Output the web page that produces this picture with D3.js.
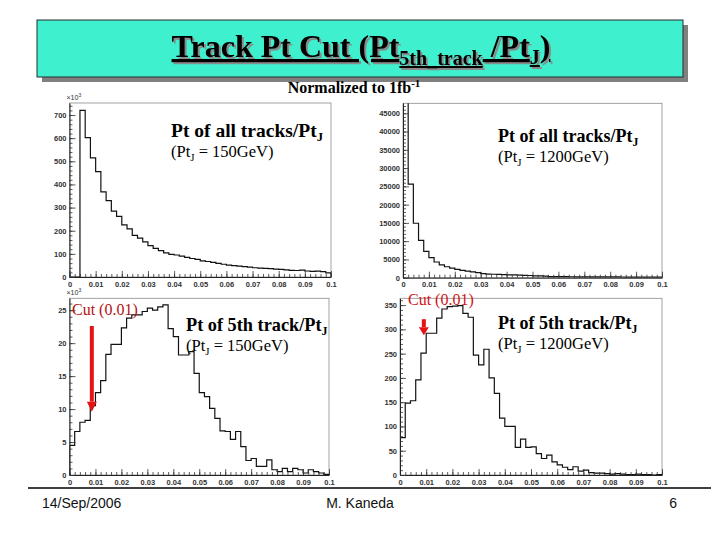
<!DOCTYPE html>
<html>
<head>
<meta charset="utf-8">
<script src="https://cdn.jsdelivr.net/npm/d3@7/dist/d3.min.js"></script>
<style>
  body { margin: 0; background: #fff; }
  svg { display: block; }
  .tick text { font-family: "Liberation Sans", Arial, sans-serif; font-weight: bold; font-size: 7.5px; fill: #333; }
</style>
</head>
<body>
<div id="slide"></div>
<script>
// 50 bins of width 0.002 between 0 and 0.1
var binWidth = 0.002;

// Pt of all tracks / PtJ, PtJ = 150 GeV  (x10^3 entries)
var allTracks150 = [0, 0, 720, 602, 515, 455, 368, 330, 285, 262, 225, 208, 180, 168, 152, 136, 124, 114, 104, 98,
  95, 90, 85, 80, 76, 70, 67, 63, 59, 55, 51, 49, 47, 45, 43, 40, 38, 37, 36, 34,
  33, 31, 29, 28, 30, 26, 24, 25, 23, 18];

// Pt of all tracks / PtJ, PtJ = 1200 GeV (first bin is off scale)
var allTracks1200 = [60000, 25600, 14900, 10200, 7200, 5500, 4300, 3500, 3000, 2600, 2300, 2000, 1800, 1600, 1400, 1100, 1000, 950, 900, 850,
  800, 750, 700, 650, 600, 500, 480, 450, 300, 300, 280, 280, 260, 250, 250, 240, 230, 220, 220, 210,
  200, 200, 190, 180, 180, 170, 160, 160, 150, 150];

// Pt of 5th track / PtJ, PtJ = 150 GeV (x10^3 entries)
var fifthTrack150 = [4.5, 6.6, 8.0, 8.3, 10.5, 12.5, 14.3, 18.3, 19.8, 19.8, 22.3, 23.8, 24.3, 24.3, 24.8, 25.3, 25.0, 25.5, 25.8, 22.2,
  21.0, 18.2, 18.2, 18.7, 15.4, 12.5, 11.9, 10.1, 8.6, 6.7, 6.6, 5.4, 6.6, 4.3, 2.2, 2.5, 1.3, 1.3, 2.3, 0.8,
  0.5, 1.0, 0.5, 1.0, 0.8, 0.3, 0.8, 0.5, 0.3, 0.1];

// Pt of 5th track / PtJ, PtJ = 1200 GeV
var fifthTrack1200 = [77, 148, 153, 196, 251, 292, 292, 323, 342, 347, 348, 349, 333, 325, 247, 227, 259, 200, 168, 117,
  100, 100, 57, 74, 57, 58, 44, 34, 41, 27, 21, 16, 11, 17, 8, 10, 5, 4, 4, 3,
  2, 3, 2, 1, 1, 2, 1, 1, 0, 1];

var xTicks = [0, 0.01, 0.02, 0.03, 0.04, 0.05, 0.06, 0.07, 0.08, 0.09, 0.1];
var xTickLabels = ["0", "0.01", "0.02", "0.03", "0.04", "0.05", "0.06", "0.07", "0.08", "0.09", "0.1"];
var yTicksAll150 = [0, 100, 200, 300, 400, 500, 600, 700];
var yTicksAll1200 = [0, 5000, 10000, 15000, 20000, 25000, 30000, 35000, 40000, 45000];
var yTicksFifth150 = [0, 5, 10, 15, 20, 25];
var yTicksFifth1200 = [0, 50, 100, 150, 200, 250, 300, 350];

var svg = d3.select('#slide').append('svg')
  .attr('width', 720)
  .attr('height', 540);

// ---- title box ----
svg.append('rect').attr('x', 42).attr('y', 25).attr('width', 646).attr('height', 57).style('fill', '#808080');
svg.append('rect').attr('x', 37).attr('y', 20).attr('width', 646).attr('height', 57)
  .style('fill', '#3ff0cf').style('stroke', '#2a2a2a').style('stroke-width', 1);

var title = svg.append('text')
  .attr('x', 361).attr('y', 57)
  .attr('text-anchor', 'middle')
  .style('font-family', '"Liberation Serif", "Times New Roman", serif')
  .style('font-weight', 'bold')
  .style('font-size', '32px')
  .style('text-decoration', 'underline')
  .style('filter', 'drop-shadow(2px 2px 0 #8a8a8a)')
  .style('fill', '#000');
title.append('tspan').text('Track Pt Cut (Pt');
title.append('tspan').attr('dy', 8).style('font-size', '20px').text('5th_track');
title.append('tspan').attr('dy', -8).text(' /Pt');
title.append('tspan').attr('dy', 7).style('font-size', '20px').text('J');
title.append('tspan').attr('dy', -7).text(')');

var norm = svg.append('text')
  .attr('x', 354).attr('y', 93)
  .attr('text-anchor', 'middle')
  .style('font-family', '"Liberation Serif", "Times New Roman", serif')
  .style('font-weight', 'bold')
  .style('font-size', '16px');
norm.append('tspan').text('Normalized to 1fb');
norm.append('tspan').attr('dy', -6).style('font-size', '11px').text('-1');

// ---- histogram panels ----
function drawPanel(cfg) {
  var x = d3.scaleLinear().domain([0, 0.1]).range([cfg.left, cfg.right]);
  var y = d3.scaleLinear().domain([0, cfg.ymax]).range([cfg.bottom, cfg.top]);
  var g = svg.append('g');

  g.append('clipPath').attr('id', cfg.id + '-clip')
    .append('rect')
    .attr('x', cfg.left).attr('y', cfg.top)
    .attr('width', cfg.right - cfg.left).attr('height', cfg.bottom - cfg.top);

  g.append('rect')
    .attr('x', cfg.left).attr('y', cfg.top)
    .attr('width', cfg.right - cfg.left).attr('height', cfg.bottom - cfg.top)
    .style('fill', '#fff').style('stroke', '#8c8c8c').style('stroke-width', 0.8);

  var pts = [{x: 0, y: 0}];
  cfg.values.forEach(function(v, i) { pts.push({x: i * binWidth, y: v}); });
  pts.push({x: cfg.values.length * binWidth, y: cfg.values[cfg.values.length - 1]});
  pts.push({x: cfg.values.length * binWidth, y: 0});

  var line = d3.line()
    .x(function(d) { return x(d.x); })
    .y(function(d) { return y(d.y); })
    .curve(d3.curveStepAfter);

  g.append('path')
    .datum(pts)
    .attr('clip-path', 'url(#' + cfg.id + '-clip)')
    .attr('d', line)
    .style('fill', 'none').style('stroke', '#111').style('stroke-width', 1.2);

  // minor ticks
  var xMinor = d3.range(0, 0.1001, 0.002);
  g.append('g').attr('transform', 'translate(0,' + cfg.bottom + ')')
    .call(d3.axisBottom(x).tickValues(xMinor).tickSize(-3).tickSizeOuter(0).tickFormat(''))
    .call(function(s) { s.select('.domain').remove(); });
  var yMinor = d3.range(0, cfg.ymax, cfg.minorStep);
  g.append('g').attr('transform', 'translate(' + cfg.left + ',0)')
    .call(d3.axisLeft(y).tickValues(yMinor).tickSize(-3).tickSizeOuter(0).tickFormat(''))
    .call(function(s) { s.select('.domain').remove(); });

  // major ticks + labels
  var xa = g.append('g').attr('transform', 'translate(0,' + cfg.bottom + ')')
    .call(d3.axisBottom(x).tickValues(xTicks).tickSize(-6).tickSizeOuter(0).tickPadding(3)
      .tickFormat(function(d, i) { return xTickLabels[i]; }));
  xa.selectAll('.tick text').attr('dy', '0.9em');
  g.append('g').attr('transform', 'translate(' + cfg.left + ',0)')
    .call(d3.axisLeft(y).tickValues(cfg.yTicks).tickSize(-6).tickSizeOuter(0).tickPadding(3)
      .tickFormat(d3.format('d')));

  g.selectAll('.domain').style('stroke', '#222').style('stroke-width', 1);
  g.selectAll('.tick line').style('stroke', '#333').style('stroke-width', 0.8);

  if (cfg.exponent) {
    var ex = g.append('text')
      .attr('x', cfg.left - 3).attr('y', cfg.top - 3)
      .style('font-family', '"Liberation Sans", Arial, sans-serif')
      .style('font-size', '7px').style('fill', '#333');
    ex.append('tspan').text('\u00d710');
    ex.append('tspan').attr('dy', -3).style('font-size', '5px').text('3');
  }

  var t1 = g.append('text')
    .attr('x', cfg.labelX).attr('y', cfg.labelY)
    .style('font-family', '"Liberation Serif", "Times New Roman", serif')
    .style('font-weight', 'bold').style('font-size', cfg.labelSize + 'px');
  t1.append('tspan').text(cfg.label);
  t1.append('tspan').attr('dy', 4).style('font-size', (cfg.labelSize * 0.65) + 'px').text('J');

  var t2 = g.append('text')
    .attr('x', cfg.labelX).attr('y', cfg.labelY + 20)
    .style('font-family', '"Liberation Serif", "Times New Roman", serif')
    .style('font-size', '16.5px');
  t2.append('tspan').text('(Pt');
  t2.append('tspan').attr('dy', 4).style('font-size', '11px').text('J');
  t2.append('tspan').attr('dy', -4).text(' = ' + cfg.energy + ')');

  if (cfg.cut) {
    var c = cfg.cut;
    g.append('line')
      .attr('x1', x(c.x)).attr('x2', x(c.x))
      .attr('y1', y(c.from)).attr('y2', y(c.to) - c.head)
      .style('stroke', '#e41414').style('stroke-width', 4);
    g.append('path')
      .attr('d', 'M' + (x(c.x) - 5) + ',' + (y(c.to) - c.head) +
        'L' + (x(c.x) + 5) + ',' + (y(c.to) - c.head) +
        'L' + x(c.x) + ',' + y(c.to) + 'Z')
      .style('fill', '#e41414');
    g.append('text')
      .attr('x', c.textX).attr('y', c.textY)
      .style('font-family', '"Liberation Serif", "Times New Roman", serif')
      .style('font-size', '16px').style('fill', c.color)
      .text('Cut (0.01)');
  }
}

drawPanel({
  id: 'tl', values: allTracks150, left: 69.5, right: 331, top: 103, bottom: 277, ymax: 752,
  yTicks: yTicksAll150, minorStep: 20, exponent: true,
  label: 'Pt of all tracks/Pt', labelX: 171, labelY: 137, labelSize: 19.5, energy: '150GeV'
});
drawPanel({
  id: 'tr', values: allTracks1200, left: 403, right: 662, top: 103.3, bottom: 277.7, ymax: 47740,
  yTicks: yTicksAll1200, minorStep: 1000, exponent: false,
  label: 'Pt of all tracks/Pt', labelX: 498, labelY: 142, labelSize: 18, energy: '1200GeV'
});
drawPanel({
  id: 'bl', values: fifthTrack150, left: 69.5, right: 329, top: 298.3, bottom: 475, ymax: 26.8,
  yTicks: yTicksFifth150, minorStep: 1, exponent: true,
  label: 'Pt of 5th track/Pt', labelX: 186, labelY: 331, labelSize: 18.3, energy: '150GeV',
  cut: {x: 0.0086, from: 22.6, to: 9.6, head: 10, textX: 72, textY: 315, color: '#b31212'}
});
drawPanel({
  id: 'br', values: fifthTrack1200, left: 400, right: 662, top: 298.3, bottom: 475, ymax: 364,
  yTicks: yTicksFifth1200, minorStep: 10, exponent: false,
  label: 'Pt of 5th track/Pt', labelX: 498, labelY: 329, labelSize: 18, energy: '1200GeV',
  cut: {x: 0.0091, from: 321, to: 288, head: 8, textX: 408, textY: 305, color: '#d01414'}
});

// ---- footer ----
svg.append('line').attr('x1', 28).attr('x2', 711).attr('y1', 488).attr('y2', 488)
  .style('stroke', '#000').style('stroke-width', 1.5);
var foot = [{t: '14/Sep/2006', x: 42, a: 'start'}, {t: 'M. Kaneda', x: 360, a: 'middle'}, {t: '6', x: 677, a: 'end'}];
svg.selectAll('.foot').data(foot).enter().append('text')
  .attr('class', 'foot')
  .attr('x', function(d) { return d.x; })
  .attr('y', 508)
  .attr('text-anchor', function(d) { return d.a; })
  .style('font-family', '"Liberation Sans", Arial, sans-serif')
  .style('font-size', '14px').style('fill', '#111')
  .text(function(d) { return d.t; });
</script>
</body>
</html>
